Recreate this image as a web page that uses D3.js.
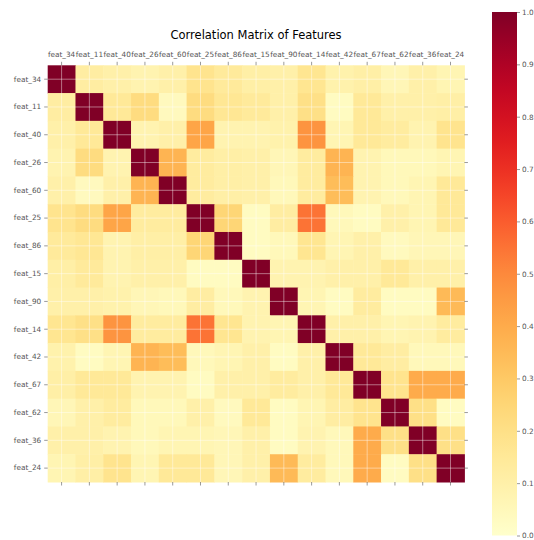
<!DOCTYPE html>
<html>
<head>
<meta charset="utf-8">
<script src="https://cdn.jsdelivr.net/npm/d3@7"></script>
<style>
  body { margin: 0; background: #fff; }
  svg { display: block; font-family: "DejaVu Sans", sans-serif; }
</style>
</head>
<body>
<div id="chart"></div>
<script>
// feature order (rows and columns)
const features = ['feat_34', 'feat_11', 'feat_40', 'feat_26', 'feat_60', 'feat_25', 'feat_86', 'feat_15',
  'feat_90', 'feat_14', 'feat_42', 'feat_67', 'feat_62', 'feat_36', 'feat_24'];

// correlation values, one row per feature
const corr = [
  [1.00, 0.12, 0.10, 0.08, 0.10, 0.18, 0.14, 0.11, 0.10, 0.17, 0.09, 0.11, 0.06, 0.10, 0.07],
  [0.12, 1.00, 0.15, 0.22, 0.04, 0.22, 0.16, 0.14, 0.10, 0.20, 0.03, 0.15, 0.10, 0.10, 0.11],
  [0.10, 0.15, 1.00, 0.08, 0.10, 0.42, 0.08, 0.08, 0.09, 0.47, 0.07, 0.15, 0.13, 0.08, 0.18],
  [0.08, 0.22, 0.08, 1.00, 0.37, 0.13, 0.11, 0.10, 0.06, 0.13, 0.37, 0.08, 0.05, 0.05, 0.07],
  [0.10, 0.04, 0.10, 0.37, 1.00, 0.13, 0.11, 0.10, 0.05, 0.13, 0.34, 0.08, 0.05, 0.07, 0.15],
  [0.18, 0.22, 0.42, 0.13, 0.13, 1.00, 0.25, 0.03, 0.12, 0.55, 0.05, 0.03, 0.10, 0.07, 0.15],
  [0.14, 0.16, 0.08, 0.11, 0.11, 0.25, 1.00, 0.03, 0.05, 0.17, 0.07, 0.10, 0.04, 0.06, 0.06],
  [0.11, 0.14, 0.08, 0.10, 0.10, 0.03, 0.03, 1.00, 0.08, 0.08, 0.10, 0.10, 0.15, 0.10, 0.10],
  [0.10, 0.10, 0.09, 0.06, 0.05, 0.12, 0.05, 0.08, 1.00, 0.07, 0.03, 0.13, 0.03, 0.03, 0.35],
  [0.17, 0.20, 0.47, 0.13, 0.13, 0.55, 0.17, 0.08, 0.07, 1.00, 0.10, 0.10, 0.07, 0.08, 0.13],
  [0.09, 0.03, 0.07, 0.37, 0.34, 0.05, 0.07, 0.10, 0.03, 0.10, 1.00, 0.15, 0.12, 0.05, 0.05],
  [0.11, 0.15, 0.15, 0.08, 0.08, 0.03, 0.10, 0.10, 0.13, 0.10, 0.15, 1.00, 0.18, 0.40, 0.40],
  [0.06, 0.10, 0.13, 0.05, 0.05, 0.10, 0.04, 0.15, 0.03, 0.07, 0.12, 0.18, 1.00, 0.20, 0.03],
  [0.10, 0.10, 0.08, 0.05, 0.07, 0.07, 0.06, 0.10, 0.03, 0.08, 0.05, 0.40, 0.20, 1.00, 0.20],
  [0.07, 0.11, 0.18, 0.07, 0.15, 0.15, 0.06, 0.10, 0.35, 0.13, 0.05, 0.40, 0.03, 0.20, 1.00]
];

const colorTicks = [0.0, 0.1, 0.2, 0.3, 0.4, 0.5, 0.6, 0.7, 0.8, 0.9, 1.0];

const width = 534, height = 540;
const plot = { left: 47.7, top: 65.3, size: 416.7 };
const bar = { left: 492, top: 12, width: 25, height: 523.5 };
const tickColor = '#555';

const svg = d3.select('#chart').append('svg')
  .attr('width', width)
  .attr('height', height);

const color = d3.scaleSequential(d3.interpolateYlOrRd).domain([0, 1]);

const x = d3.scaleBand().domain(features).range([plot.left, plot.left + plot.size]);
const y = d3.scaleBand().domain(features).range([plot.top, plot.top + plot.size]);

// cells
const cells = [];
corr.forEach((row, i) => row.forEach((v, j) => cells.push({ r: features[i], c: features[j], v })));

svg.append('g')
  .selectAll('rect')
  .data(cells)
  .join('rect')
  .attr('x', d => x(d.c))
  .attr('y', d => y(d.r))
  .attr('width', x.bandwidth() + 0.5)
  .attr('height', y.bandwidth() + 0.5)
  .attr('fill', d => color(d.v));

// white grid through cell centres
const grid = svg.append('g').attr('stroke', '#fff').attr('stroke-opacity', 0.55).attr('stroke-width', 0.8);
features.forEach(f => {
  const cx = x(f) + x.bandwidth() / 2;
  const cy = y(f) + y.bandwidth() / 2;
  grid.append('line').attr('x1', cx).attr('x2', cx).attr('y1', plot.top).attr('y2', plot.top + plot.size);
  grid.append('line').attr('x1', plot.left).attr('x2', plot.left + plot.size).attr('y1', cy).attr('y2', cy);
});

const styleAxis = g => {
  g.select('.domain').remove();
  g.selectAll('.tick line').attr('stroke', tickColor).attr('stroke-width', 0.6);
  g.selectAll('.tick text').attr('fill', tickColor).attr('font-size', '7.3px')
    .attr('font-family', '"DejaVu Sans", sans-serif');
};

// top axis with labels
svg.append('g')
  .attr('transform', `translate(0,${plot.top})`)
  .call(d3.axisTop(x).tickSize(3.5).tickPadding(5))
  .call(styleAxis);

// left axis with labels
svg.append('g')
  .attr('transform', `translate(${plot.left},0)`)
  .call(d3.axisLeft(y).tickSize(3.5).tickPadding(3))
  .call(styleAxis);

// bottom and right: ticks only
svg.append('g')
  .attr('transform', `translate(0,${plot.top + plot.size})`)
  .call(d3.axisBottom(x).tickSize(3.5).tickFormat(''))
  .call(styleAxis);
svg.append('g')
  .attr('transform', `translate(${plot.left + plot.size},0)`)
  .call(d3.axisRight(y).tickSize(3.5).tickFormat(''))
  .call(styleAxis);

// title
svg.append('text')
  .attr('x', plot.left + plot.size / 2)
  .attr('y', 39)
  .attr('text-anchor', 'middle')
  .attr('font-size', '11.5px')
  .attr('fill', '#000')
  .text('Correlation Matrix of Features');

// colorbar
const defs = svg.append('defs');
const grad = defs.append('linearGradient')
  .attr('id', 'cbar')
  .attr('x1', '0%').attr('y1', '100%')
  .attr('x2', '0%').attr('y2', '0%');
d3.range(0, 1.0001, 0.05).forEach(t => {
  grad.append('stop').attr('offset', `${t * 100}%`).attr('stop-color', color(t));
});
svg.append('rect')
  .attr('x', bar.left).attr('y', bar.top)
  .attr('width', bar.width).attr('height', bar.height)
  .attr('fill', 'url(#cbar)');

const cy = d3.scaleLinear().domain([0, 1]).range([bar.top + bar.height, bar.top]);
svg.append('g')
  .attr('transform', `translate(${bar.left + bar.width},0)`)
  .call(d3.axisRight(cy).tickValues(colorTicks).tickFormat(d3.format('.1f')).tickSize(3).tickPadding(2))
  .call(styleAxis);
</script>
</body>
</html>
